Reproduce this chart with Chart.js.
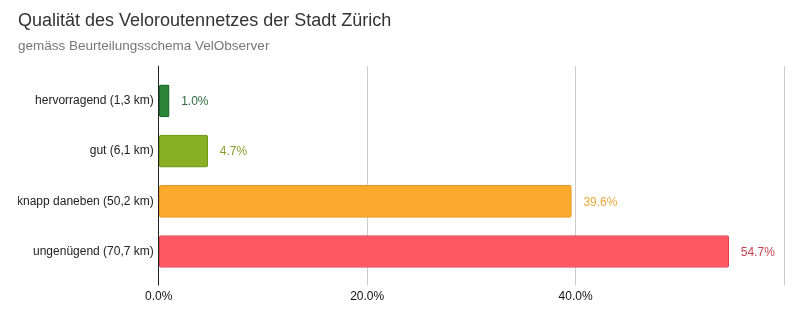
<!DOCTYPE html>
<html>
<head>
<meta charset="utf-8">
<script src="https://cdn.jsdelivr.net/npm/chart.js@4/dist/chart.umd.min.js"></script>
<style>
  html, body { margin: 0; padding: 0; background: #fff; }
  #wrap { width: 800px; height: 321px; }
</style>
</head>
<body>
<div id="wrap"><canvas id="c" width="800" height="321"></canvas></div>
<script>
// Daten
const categories = ['hervorragend (1,3 km)', 'gut (6,1 km)', 'knapp daneben (50,2 km)', 'ungenügend (70,7 km)'];
const shares = [1.0, 4.7, 39.6, 54.7];
const xTicks = [0, 20, 40, 60];

const fillColors = ['#2a8538', '#89b024', '#fcaa2d', '#fe5864'];
const borderColors = ['#1c5e27', '#6f9418', '#e6961f', '#d6404d'];
const labelColors = ['#2f6b3c', '#8a9b2c', '#eda83d', '#c6434d'];

const FONT = "'Liberation Sans', Arial, sans-serif";

// Gitterlinien etwas über den Plotbereich hinaus verlängern
const gridExtend = {
  id: 'gridExtend',
  beforeDatasetsDraw(chart) {
    const { ctx, chartArea, scales } = chart;
    ctx.save();
    ctx.lineWidth = 1;
    scales.x.ticks.forEach(t => {
      const x = Math.round(scales.x.getPixelForValue(t.value) - 0.5) + 0.5;
      ctx.strokeStyle = t.value === 0 ? '#222' : '#cccccc';
      ctx.beginPath();
      ctx.moveTo(x, chartArea.top - 10);
      ctx.lineTo(x, chartArea.top);
      ctx.stroke();
    });
    ctx.restore();
  },
};

// Prozentwerte rechts neben den Balken
const valueLabels = {
  id: 'valueLabels',
  afterDatasetsDraw(chart) {
    const { ctx } = chart;
    const meta = chart.getDatasetMeta(0);
    ctx.save();
    ctx.font = `12px ${FONT}`;
    ctx.textBaseline = 'middle';
    ctx.textAlign = 'left';
    meta.data.forEach((bar, i) => {
      ctx.fillStyle = labelColors[i];
      ctx.fillText(shares[i].toFixed(1) + '%', bar.x + 12, bar.y + 1);
    });
    ctx.restore();
  },
};

new Chart(document.getElementById('c'), {
  type: 'bar',
  data: {
    labels: categories,
    datasets: [{
      data: shares,
      backgroundColor: fillColors,
      borderColor: borderColors,
      borderWidth: 1,
      borderRadius: 2,
      borderSkipped: false,
      barThickness: 32,
    }],
  },
  options: {
    indexAxis: 'y',
    responsive: false,
    animation: false,
    layout: { padding: { left: 18, right: 16, top: 0, bottom: 13 } },
    scales: {
      x: {
        min: 0,
        max: 60,
        afterBuildTicks: (axis) => { axis.ticks = xTicks.map(v => ({ value: v })); },
        ticks: {
          color: '#111',
          font: { family: FONT, size: 12 },
          padding: 4,
          maxRotation: 0,
          callback: (v) => (v === 60 ? '' : v.toFixed(1) + '%'),
        },
        grid: {
          color: (ctx) => (ctx.tick && ctx.tick.value === 0 ? '#222' : '#cccccc'),
          tickLength: 9,
        },
        border: { display: false },
      },
      y: {
        afterFit: (axis) => { axis.width -= 6; },
        ticks: {
          color: '#222',
          font: { family: FONT, size: 12 },
          padding: 5,
        },
        grid: { display: false, drawTicks: false },
        border: { display: false },
      },
    },
    plugins: {
      legend: { display: false },
      tooltip: { enabled: false },
      title: {
        display: true,
        text: 'Qualität des Veloroutennetzes der Stadt Zürich',
        align: 'start',
        color: '#333',
        font: { family: FONT, size: 18, weight: 'normal' },
        padding: { top: 10, bottom: 7 },
      },
      subtitle: {
        display: true,
        text: 'gemäss Beurteilungsschema VelObserver',
        align: 'start',
        color: '#777',
        font: { family: FONT, size: 13.5, weight: 'normal' },
        padding: { top: 0, bottom: 21 },
      },
    },
  },
  plugins: [gridExtend, valueLabels],
});
</script>
</body>
</html>
